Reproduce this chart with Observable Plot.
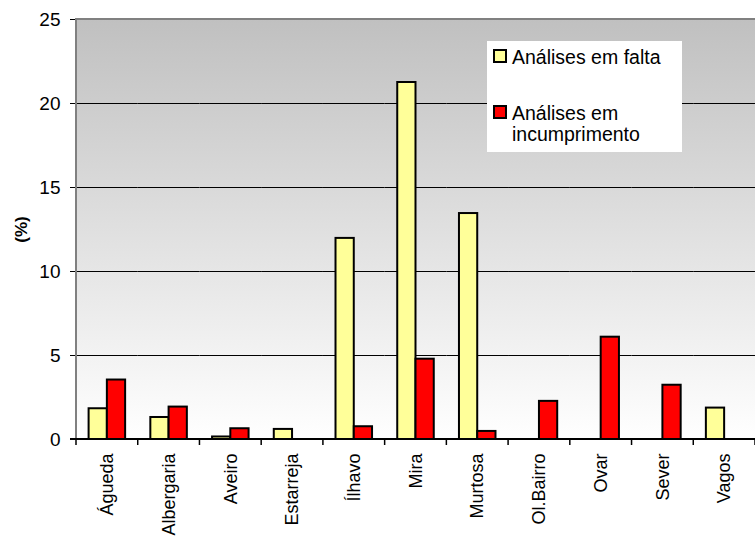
<!DOCTYPE html>
<html>
<head>
<meta charset="utf-8">
<script src="https://cdn.jsdelivr.net/npm/d3@7"></script>
<script src="https://cdn.jsdelivr.net/npm/@observablehq/plot@0.6"></script>
<style>
  body { margin: 0; background: #fff; }
  #wrap { position: relative; width: 755px; height: 538px; font-family: "Liberation Sans", Arial, sans-serif; }
  #legend { position: absolute; left: 487px; top: 41px; width: 195px; height: 111px; background: #fff; font-size: 19.5px; color: #000; }
  .item { position: absolute; left: 6px; display: flex; align-items: flex-start; line-height: 20.5px; }
  .sw { width: 10px; height: 10px; border: 2px solid #000; margin-right: 5px; margin-top: 2px; flex: none; }
</style>
</head>
<body>
<div id="wrap"></div>
<script>
const categories = ["Águeda","Albergaria","Aveiro","Estarreja","Ílhavo","Mira","Murtosa","Ol.Bairro","Ovar","Sever","Vagos"];
const emFalta = [1.83, 1.31, 0.15, 0.6, 11.97, 21.25, 13.45, 0, 0, 0, 1.87];
const emIncumprimento = [3.54, 1.93, 0.64, 0, 0.76, 4.78, 0.48, 2.27, 6.09, 3.23, 0];
const seriesNames = ["Análises em falta", "Análises em incumprimento"];
const seriesColors = ["#ffff99", "#ff0000"];
const yTicks = [0, 5, 10, 15, 20, 25];
const gridTicks = [5, 10, 15, 20];

const data = [];
categories.forEach((c, i) => {
  data.push({cat: c, series: seriesNames[0], value: emFalta[i]});
  data.push({cat: c, series: seriesNames[1], value: emIncumprimento[i]});
});
const barsData = data.filter(d => d.value > 0);

const chart = Plot.plot({
  width: 755,
  height: 538,
  marginLeft: 76,
  marginRight: 0,
  marginTop: 19,
  marginBottom: 99,
  style: {fontFamily: "'Liberation Sans', Arial, sans-serif", fontSize: "19px", color: "#000", background: "transparent"},
  fx: {domain: categories, paddingInner: 0, paddingOuter: 0, round: false, axis: null},
  x: {domain: seriesNames, paddingInner: 0, paddingOuter: 0.69, round: false, axis: null},
  y: {domain: [0, 25], ticks: yTicks, tickSize: 6, tickPadding: 10, label: "(%)", labelAnchor: "center", labelOffset: 62, labelArrow: "none"},
  color: {domain: seriesNames, range: seriesColors},
  marks: [
    Plot.ruleY(gridTicks, {stroke: "#000", strokeWidth: 1}),
    Plot.barY(barsData, {fx: "cat", x: "series", y: "value", fill: "series", stroke: "#000", strokeWidth: 2, inset: 0}),
    Plot.axisFx({anchor: "bottom", tickRotate: -90, tickSize: 0, tickPadding: 14, label: null, fontSize: "18px"})
  ]
});

const svg = d3.select(chart);
const defs = svg.insert("defs", ":first-child");
const g = defs.append("linearGradient").attr("id", "bggrad").attr("x1", 0).attr("y1", 0).attr("x2", 0).attr("y2", 1);
g.append("stop").attr("offset", "0%").attr("stop-color", "#c0c0c0");
g.append("stop").attr("offset", "100%").attr("stop-color", "#ffffff");

const fx = chart.scale("fx");
const yS = chart.scale("y");
const [fxMin, fxMax] = fx.range;
const yTop = yS.apply(25), y0 = yS.apply(0);

// single background panel behind everything (after defs)
svg.insert("rect", "defs + *")
  .attr("x", fxMin).attr("y", yTop).attr("width", fxMax - fxMin).attr("height", y0 - yTop)
  .attr("fill", "url(#bggrad)");

// bold y label
svg.selectAll("g[aria-label='y-axis label'] text").attr("font-weight", "bold").attr("font-size", "17px");

// frame lines: top (gray), left (gray), bottom (black)
const lg = svg.append("g");
lg.append("line").attr("x1", fxMin).attr("x2", fxMax).attr("y1", yTop).attr("y2", yTop).attr("stroke", "#808080").attr("stroke-width", 2);
lg.append("line").attr("x1", fxMin).attr("x2", fxMin).attr("y1", yTop - 1).attr("y2", y0).attr("stroke", "#808080").attr("stroke-width", 2);
lg.append("line").attr("x1", fxMin - 6).attr("x2", fxMax).attr("y1", y0).attr("y2", y0).attr("stroke", "#000").attr("stroke-width", 2);

// x tick marks at category boundaries
const tg = svg.append("g").attr("stroke", "#000").attr("stroke-width", 1.5);
[fx.apply(categories[0])].concat(categories.map(c => fx.apply(c) + fx.bandwidth)).forEach(xr => {
  tg.append("line").attr("x1", xr).attr("x2", xr).attr("y1", y0).attr("y2", y0 + 6);
});

document.getElementById("wrap").appendChild(chart);

const legend = document.createElement("div");
legend.id = "legend";
const lines = [["Análises em falta"], ["Análises em", "incumprimento"]];
const tops = [6, 62];
seriesNames.forEach((s, i) => {
  const it = document.createElement("div");
  it.className = "item";
  it.style.top = tops[i] + "px";
  const sw = document.createElement("div");
  sw.className = "sw";
  sw.style.background = seriesColors[i];
  const tx = document.createElement("div");
  tx.innerHTML = lines[i].join("<br>");
  it.appendChild(sw); it.appendChild(tx);
  legend.appendChild(it);
});
document.getElementById("wrap").appendChild(legend);
</script>
</body>
</html>
